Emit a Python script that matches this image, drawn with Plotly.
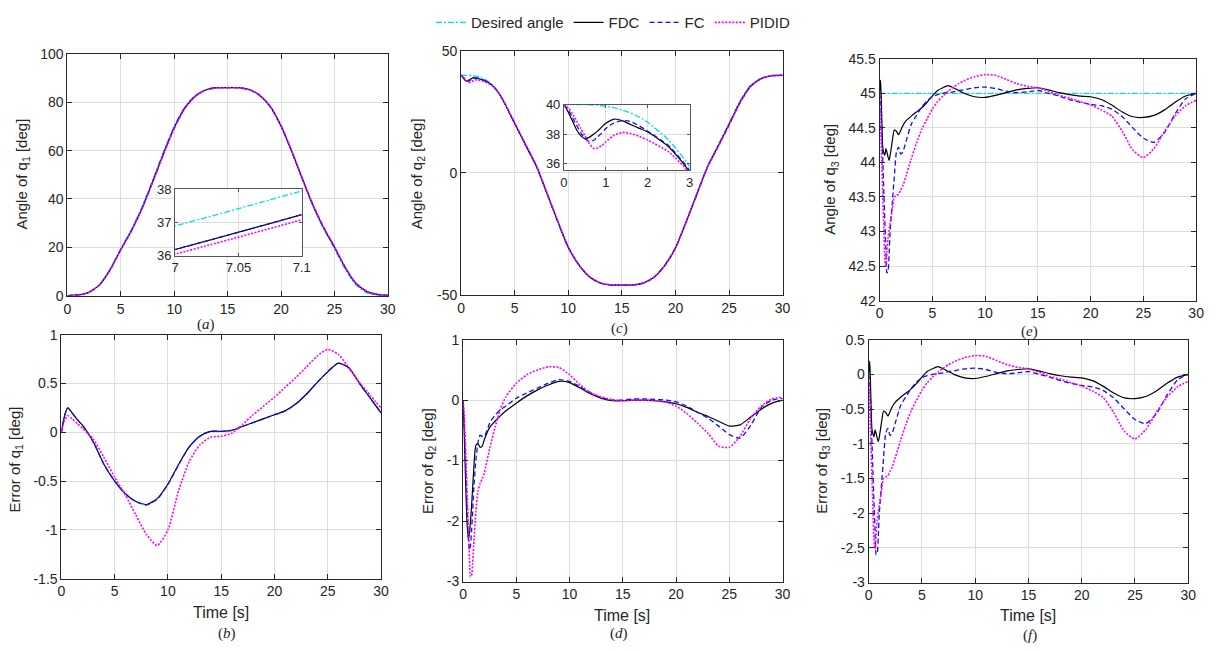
import plotly.graph_objects as go

W, H = 1219, 651

# ---------------- data ----------------
# Joint 1
T1 = [0, 0.3, 0.6, 1, 1.5, 2, 3, 4, 5, 6, 7, 8, 9, 10, 11, 12, 13, 14, 15,
      16, 17, 18, 19, 20, 21, 22, 23, 24, 25, 26, 27, 28, 29, 30]
Q1_DES = [0, 0.01, 0.05, 0.2, 0.6, 1.3, 4.5, 11, 19.5, 27.5, 36.9, 48, 59.5, 70, 78, 82.8, 85.2, 86, 86,
          86, 85.2, 82.8, 78, 70, 59.5, 48, 36.9, 27.5, 19.5, 11, 4.5, 1.3, 0.2, 0]
E1_FDC = [0, 0.17, 0.25, 0.2, 0.13, 0.07, -0.1, -0.33, -0.5, -0.63, -0.71, -0.74, -0.68, -0.53, -0.33, -0.15, -0.04, 0.01, 0.01,
          0.02, 0.06, 0.1, 0.14, 0.18, 0.22, 0.29, 0.39, 0.51, 0.62, 0.71, 0.66, 0.5, 0.35, 0.2]
E1_FC = [0, 0.17, 0.25, 0.2, 0.13, 0.07, -0.1, -0.33, -0.5, -0.63, -0.71, -0.745, -0.685, -0.535, -0.335, -0.15, -0.04, 0.01, 0.01,
         0.02, 0.06, 0.1, 0.14, 0.18, 0.22, 0.29, 0.39, 0.51, 0.62, 0.71, 0.66, 0.5, 0.35, 0.2]
E1_PIDID = [0, 0.12, 0.17, 0.14, 0.09, 0.04, -0.07, -0.26, -0.46, -0.64, -0.85, -1.05, -1.16, -1.0, -0.6, -0.3, -0.13, -0.05, -0.04,
            -0.01, 0.08, 0.18, 0.27, 0.36, 0.46, 0.56, 0.67, 0.78, 0.85, 0.8, 0.66, 0.51, 0.38, 0.25]

# Joint 2
T2 = [0, 0.1, 0.2, 0.3, 0.4, 0.5, 0.6, 0.7, 0.8, 0.9, 1.0, 1.2, 1.4, 1.6, 1.8, 2.0, 2.5, 3, 3.5, 4,
      5, 6, 7, 8, 9, 10, 11, 12, 13, 14, 15, 16, 17, 18, 19, 20, 21, 22, 23, 24, 25, 26, 27, 28, 29, 30]
Q2_DES = [40, 40, 40, 40, 40, 40, 39.98, 39.97, 39.95, 39.92, 39.88, 39.77, 39.62, 39.42, 39.15, 38.8, 37.6, 35.8, 33.0, 29.2,
          20.3, 11.5, 2.8, -8.5, -20, -30.8, -38, -42.8, -45.2, -46, -46, -46, -45.2, -42.8, -38, -30.8, -20, -8.5, 2.8, 11.5,
          20.3, 29.2, 35.8, 38.8, 39.88, 40]
E2_FDC = [0, -0.5, -1.1, -1.7, -2.1, -2.3, -2.2, -2.0, -1.75, -1.45, -1.15, -0.75, -0.72, -0.78, -0.76, -0.65, -0.45, -0.35, -0.26, -0.18,
          -0.05, 0.07, 0.17, 0.25, 0.31, 0.29, 0.2, 0.1, 0.03, -0.01, -0.01, 0.0, 0.0, -0.01, -0.03, -0.06, -0.12, -0.2, -0.27, -0.35,
          -0.43, -0.41, -0.28, -0.15, -0.05, 0.0]
E2_FC = [0, -0.35, -0.85, -1.4, -1.9, -2.3, -2.48, -2.4, -2.15, -1.85, -1.5, -1.0, -0.7, -0.58, -0.6, -0.6, -0.38, -0.25, -0.16, -0.1,
         0.03, 0.12, 0.2, 0.28, 0.34, 0.31, 0.22, 0.12, 0.04, 0.0, 0.0, 0.02, 0.02, 0.01, 0.0, -0.03, -0.1, -0.2, -0.3, -0.43,
         -0.57, -0.63, -0.42, -0.12, 0.0, 0.03]
E2_PIDID = [0, -0.2, -0.6, -1.1, -1.6, -2.1, -2.6, -2.92, -2.9, -2.7, -2.4, -1.85, -1.5, -1.38, -1.3, -1.2, -0.8, -0.45, -0.15, 0.05,
            0.28, 0.42, 0.5, 0.55, 0.54, 0.42, 0.25, 0.12, 0.05, 0.01, -0.01, 0.0, 0.0, -0.01, -0.03, -0.1, -0.22, -0.38, -0.55, -0.76,
            -0.78, -0.6, -0.3, -0.1, 0.02, 0.05]

# Joint 3
T3 = [0, 0.1, 0.2, 0.3, 0.4, 0.5, 0.6, 0.7, 0.8, 0.9, 1.0, 1.2, 1.4, 1.6, 1.8, 2.0, 2.2, 2.5, 3, 3.5, 4, 4.5, 5, 5.5,
      6, 6.5, 7, 7.5, 8, 9, 10, 11, 12, 13, 14, 15, 16, 17, 18, 19, 20, 21, 22, 23, 24, 25, 26, 27, 28, 29, 30]
Q3_DES = 45
E3_FDC = [0, 0.19, -0.3, -0.78, -0.86, -0.9, -0.8, -0.85, -0.92, -0.97, -0.9, -0.7, -0.53, -0.55, -0.6, -0.54, -0.47, -0.4, -0.33, -0.27,
          -0.21, -0.13, -0.04, 0.04, 0.08, 0.11, 0.08, 0.04, 0.0, -0.05, -0.06, -0.03, 0.01, 0.05, 0.07, 0.08, 0.05, 0.01, -0.02, -0.04,
          -0.05, -0.09, -0.17, -0.27, -0.34, -0.35, -0.32, -0.24, -0.13, -0.04, 0.0]
E3_FC = [0, -0.1, -0.5, -0.95, -1.4, -1.85, -2.25, -2.6, -2.58, -2.35, -2.0, -1.6, -1.2, -0.85, -0.78, -0.88, -0.85, -0.7, -0.45, -0.32,
         -0.2, -0.11, -0.05, -0.02, 0.0, 0.01, 0.02, 0.04, 0.05, 0.08, 0.09, 0.07, 0.03, 0.01, 0.02, 0.04, 0.0, -0.04, -0.09, -0.13,
         -0.16, -0.18, -0.23, -0.34, -0.5, -0.65, -0.71, -0.57, -0.3, -0.08, 0.0]
E3_PIDID = [0, -0.45, -0.95, -1.45, -1.95, -2.4, -2.52, -2.3, -2.1, -1.98, -1.88, -1.68, -1.5, -1.48, -1.46, -1.4, -1.34, -1.2, -0.95, -0.72,
            -0.52, -0.37, -0.23, -0.12, -0.04, 0.03, 0.09, 0.14, 0.18, 0.24, 0.27, 0.26, 0.2, 0.14, 0.1, 0.08, 0.03, -0.03, -0.07, -0.12,
            -0.17, -0.24, -0.33, -0.55, -0.82, -0.93, -0.8, -0.55, -0.33, -0.18, -0.1]

SERIES = ["Desired angle", "FDC", "FC", "PIDID"]
X_TICKS = [0, 5, 10, 15, 20, 25, 30]

# ---------------- styles ----------------
COL = {"Desired angle": "#00DDEE", "FDC": "#000000", "FC": "#1010F0", "PIDID": "#FF00FF"}
DASH = {"Desired angle": "6px,2px,2px,2px", "FDC": "solid", "FC": "5px,3px", "PIDID": "2px,1.5px"}
WID = {"Desired angle": 1.3, "FDC": 1.2, "FC": 1.3, "PIDID": 1.6}
FONT = "Liberation Sans, Arial, sans-serif"
TXT = "#262626"

def px_dom_x(a, b):
    return [a / W, b / W]

def px_dom_y(top, bottom):
    return [1 - bottom / H, 1 - top / H]

def fmt(v):
    return "%g" % v

def axis(domain, rng, ticks, anchor, grid=True, fs=14):
    return dict(domain=domain, range=rng, tickvals=ticks, ticktext=[fmt(t) for t in ticks],
                showline=True, mirror="ticks", linecolor=TXT, linewidth=1,
                ticks="inside", ticklen=5, tickcolor=TXT, tickwidth=1,
                showgrid=grid, gridcolor="#DEDEDE", gridwidth=1, zeroline=False,
                tickfont=dict(family=FONT, size=fs, color=TXT), anchor=anchor,
                fixedrange=True)

fig = go.Figure()

def add(xs, ys, name, xa, ya, legend=False):
    fig.add_trace(go.Scatter(x=xs, y=ys, mode="lines", name=name, showlegend=legend,
                             line=dict(color=COL[name], dash=DASH[name], width=WID[name],
                                       shape="spline", smoothing=0.6),
                             xaxis=xa, yaxis=ya))

# angle arrays (desired + tracking error)
Q1 = {"Desired angle": Q1_DES,
      "FDC": [d + e for d, e in zip(Q1_DES, E1_FDC)],
      "FC": [d + e for d, e in zip(Q1_DES, E1_FC)],
      "PIDID": [d + e for d, e in zip(Q1_DES, E1_PIDID)]}
Q2 = {"Desired angle": Q2_DES,
      "FDC": [d + e for d, e in zip(Q2_DES, E2_FDC)],
      "FC": [d + e for d, e in zip(Q2_DES, E2_FC)],
      "PIDID": [d + e for d, e in zip(Q2_DES, E2_PIDID)]}
Q3 = {"Desired angle": [Q3_DES for _ in T3],
      "FDC": [Q3_DES + e for e in E3_FDC],
      "FC": [Q3_DES + e for e in E3_FC],
      "PIDID": [Q3_DES + e for e in E3_PIDID]}
E1 = {"FDC": E1_FDC, "FC": E1_FC, "PIDID": E1_PIDID}
E2 = {"FDC": E2_FDC, "FC": E2_FC, "PIDID": E2_PIDID}
E3 = {"FDC": E3_FDC, "FC": E3_FC, "PIDID": E3_PIDID}

for n in SERIES:
    add(T1, Q1[n], n, "x", "y", legend=True)      # (a)
    add(T2, Q2[n], n, "x2", "y2")                  # (c)
    add(T3, Q3[n], n, "x3", "y3")                  # (e)
for n in ["FDC", "FC", "PIDID"]:
    add(T1, E1[n], n, "x4", "y4")                  # (b)
    add(T2, E2[n], n, "x5", "y5")                  # (d)
    add(T3, E3[n], n, "x6", "y6")                  # (f)
for n in SERIES:
    add(T1, Q1[n], n, "x7", "y7")                  # inset (a)
    add(T2, Q2[n], n, "x8", "y8")                  # inset (c)

lay = {}
lay["xaxis"] = axis(px_dom_x(64, 388), [0, 30], X_TICKS, "y")
lay["yaxis"] = axis(px_dom_y(47, 295), [0, 100], [0, 20, 40, 60, 80, 100], "x")
lay["xaxis2"] = axis(px_dom_x(462, 787), [0, 30], X_TICKS, "y2")
lay["yaxis2"] = axis(px_dom_y(44, 294), [-50, 50], [-50, 0, 50], "x2")
lay["xaxis3"] = axis(px_dom_x(885, 1205), [0, 30], X_TICKS, "y3")
lay["yaxis3"] = axis(px_dom_y(52, 300), [42, 45.5], [42, 42.5, 43, 43.5, 44, 44.5, 45, 45.5], "x3")
lay["xaxis4"] = axis(px_dom_x(58, 381), [0, 30], X_TICKS, "y4")
lay["yaxis4"] = axis(px_dom_y(335, 585), [-1.5, 1], [-1.5, -1, -0.5, 0, 0.5, 1], "x4")
lay["xaxis5"] = axis(px_dom_x(464, 787), [0, 30], X_TICKS, "y5")
lay["yaxis5"] = axis(px_dom_y(340, 588), [-3, 1], [-3, -2, -1, 0, 1], "x5")
lay["xaxis6"] = axis(px_dom_x(874, 1197), [0, 30], X_TICKS, "y6")
lay["yaxis6"] = axis(px_dom_y(340, 589), [-3, 0.5], [-3, -2.5, -2, -1.5, -1, -0.5, 0, 0.5], "x6")
lay["xaxis7"] = axis(px_dom_x(173, 301), [7, 7.1], [7, 7.05, 7.1], "y7", fs=13)
lay["yaxis7"] = axis(px_dom_y(186, 254), [36, 38], [36, 37, 38], "x7", fs=13)
lay["xaxis8"] = axis(px_dom_x(566, 693), [0, 3], [0, 1, 2, 3], "y8", fs=13)
lay["yaxis8"] = axis(px_dom_y(99, 166), [35.58, 40], [36, 38, 40], "x8", fs=13)
for k in ["xaxis7", "yaxis7", "xaxis8", "yaxis8"]:
    lay[k]["linecolor"] = "#555555"
    lay[k]["tickcolor"] = "#555555"
    lay[k]["ticklen"] = 3

ann = []
def text(x, y, s, size=15, family=FONT, angle=0):
    ann.append(dict(x=x / W, y=1 - y / H, xref="paper", yref="paper", text=s, showarrow=False,
                    textangle=angle, xanchor="center", yanchor="middle",
                    font=dict(family=family, size=size, color=TXT)))

text(19, 170, "Angle of q<sub>1</sub> [deg]", angle=-90)
text(418, 170, "Angle of q<sub>2</sub> [deg]", angle=-90)
text(836, 176, "Angle of q<sub>3</sub> [deg]", angle=-90)
text(12, 463, "Error of q<sub>1</sub> [deg]", angle=-90)
text(429, 464, "Error of q<sub>2</sub> [deg]", angle=-90)
text(827, 464, "Error of q<sub>3</sub> [deg]", angle=-90)
text(219, 620, "Time [s]", size=16)
text(625, 623, "Time [s]", size=16)
text(1035, 623, "Time [s]", size=16)
SERIF = "Liberation Serif, Times New Roman, serif"
text(204, 324, "(<i>a</i>)", size=15, family=SERIF)
text(225, 641, "(<i>b</i>)", size=15, family=SERIF)
text(622, 329, "(<i>c</i>)", size=15, family=SERIF)
text(622, 641, "(<i>d</i>)", size=15, family=SERIF)
text(1037, 332, "(<i>e</i>)", size=15, family=SERIF)
text(1037, 643, "(<i>f</i>)", size=15, family=SERIF)

fig.update_layout(width=W, height=H, margin=dict(l=0, r=0, t=0, b=0),
                  paper_bgcolor="white", plot_bgcolor="white",
                  annotations=ann,
                  legend=dict(orientation="h", x=0.505, xanchor="center", y=1 - 15 / H, yanchor="middle",
                              font=dict(family=FONT, size=15, color=TXT), bgcolor="rgba(0,0,0,0)",
                              itemwidth=30, tracegroupgap=0, itemclick=False),
                  **lay)

fig.write_html("out.html")
